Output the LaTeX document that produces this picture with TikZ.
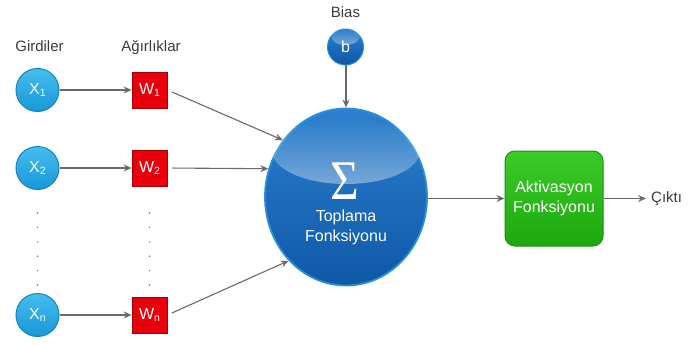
\documentclass[tikz,border=0pt]{standalone}
\usepackage{fontspec}
\setmainfont{Liberation Sans}
\newfontfamily\sigmafont{Liberation Serif}
\usetikzlibrary{arrows.meta,shapes.geometric,fadings}

\definecolor{inputtop}{HTML}{45BDEE}
\definecolor{inputbot}{HTML}{1898D8}
\definecolor{inputedge}{HTML}{1684C2}
\definecolor{wred}{HTML}{E8000C}
\definecolor{wedge}{HTML}{A80000}
\definecolor{sumtop}{HTML}{2C80CF}
\definecolor{sumbot}{HTML}{0E58A6}
\definecolor{sumedge}{HTML}{2A8FDA}
\definecolor{acttop}{HTML}{3CCB28}
\definecolor{actbot}{HTML}{1DA80F}
\definecolor{actedge}{HTML}{189010}
\definecolor{linkgray}{HTML}{6A6A6A}
\definecolor{labelgray}{HTML}{3A3A3A}
\definecolor{dotgray}{HTML}{7A7A7A}

\newcommand\lowidx[1]{\raisebox{-2.5pt}{\fontsize{10.5}{10.5}\selectfont#1}}

\tikzfading[name=glossfade, top color=transparent!100, bottom color=transparent!60]

\tikzset{
  txt/.style={font=\fontsize{15}{19}\selectfont},
  intxt/.style={font=\fontsize{16}{20}\selectfont},
  caption/.style={txt, text=labelgray, inner sep=0pt},
  inputnode/.style={circle, minimum size=43pt, inner sep=0pt, draw=inputedge,
    line width=1pt, top color=inputtop, bottom color=inputbot, text=white, intxt},
  weightbox/.style={rectangle, minimum width=35pt, minimum height=36pt, inner sep=0pt,
    fill=wred, draw=wedge, line width=0.8pt, text=white, intxt},
  bluebody/.style={draw=sumedge, line width=1.8pt, top color=sumtop, bottom color=sumbot},
  actbox/.style={rectangle, rounded corners=10pt, minimum width=98pt, minimum height=95pt,
    inner sep=0pt, top color=acttop, bottom color=actbot, draw=actedge, line width=1pt,
    text=white, align=center, intxt},
  link/.style={draw=linkgray, line width=1.1pt, -{Stealth[length=8pt,width=7pt]}},
  gloss/.style={fill=white, path fading=glossfade},
}

\begin{document}
\begin{tikzpicture}[x=1pt,y=-1pt]
\useasboundingbox (0,0) rectangle (688,345);

% column captions
\node[caption, anchor=base] (cin) at (39.5,52) {Girdiler};
\node[caption, anchor=base] (cw) at (151,52) {Ağırlıklar};
\node[caption, anchor=base] (cbias) at (345.5,17.5) {Bias};

% inputs
\node[inputnode] (x1) at (37.5,90)  {X\lowidx{1}};
\node[inputnode] (x2) at (37.5,168) {X\lowidx{2}};
\node[inputnode] (xn) at (37.5,315) {X\lowidx{n}};

% weights
\node[weightbox] (w1) at (149.5,90)  {W\lowidx{1}};
\node[weightbox] (w2) at (149.5,168) {W\lowidx{2}};
\node[weightbox] (wn) at (149.5,315) {W\lowidx{n}};

% elided rows
\foreach \yy in {213,227.4,241.8,256.2,270.6,285} {
  \fill[dotgray] (37.5,\yy) circle (0.8);
  \fill[dotgray] (149.5,\yy) circle (0.8);
}

% bias
\node[circle, minimum size=36pt, inner sep=0pt, bluebody, line width=1pt,
      text=white, intxt] (b) at (345.5,47) {b};
\fill[gloss] (345.5,37) ellipse (14 and 8);

% summation
\node[ellipse, minimum width=162pt, minimum height=177pt, inner sep=0pt, bluebody] (sum) at (346,197) {};
\fill[gloss] (346,151) ellipse (74 and 33);
\node[text=white, inner sep=0pt] (sigma) at (345,181)
  {\scalebox{0.88}[1]{\sigmafont\fontsize{56}{56}\selectfont Σ}};
\node[intxt, text=white, align=center, inner sep=0pt] (sumtxt) at (346,227.5)
  {Toplama\\Fonksiyonu};

% activation
\node[actbox] (act) at (554,198.5) {Aktivasyon\\Fonksiyonu};
\node[caption, anchor=west] (out) at (651,198.5) {Çıktı};

% connectors
\draw[link] (x1) -- (w1);
\draw[link] (x2) -- (w2);
\draw[link] (xn) -- (wn);
\draw[link, shorten <=5pt] (w1.east) -- (sum.138);
\draw[link, shorten <=5pt] (w2.east) -- (sum.160);
\draw[link, shorten <=5pt] (wn.east) -- (sum.228.5);
\draw[link] (b.south -| sum.north) -- (sum.north);
\draw[link] (act.west -| sum.east) -- (act.west);
\draw[link] (act.east) -- ([xshift=-5pt]out.west);
\end{tikzpicture}
\end{document}
